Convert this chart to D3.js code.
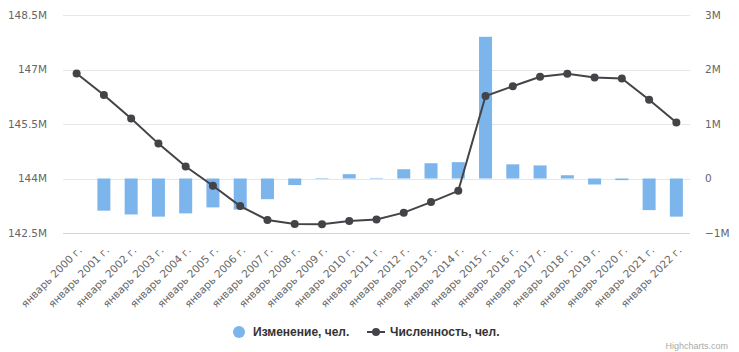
<!DOCTYPE html>
<html><head><meta charset="utf-8">
<script src="https://cdn.jsdelivr.net/npm/d3@7"></script>
<style>
body{margin:0;background:#fff;}
text{font-family:"Liberation Sans",Arial,Helvetica,sans-serif;}
.ax text{font-family:"DejaVu Sans",sans-serif;}
</style></head>
<body><svg id="c" width="739" height="352"></svg>
<script>
const categories = ["январь 2000 г.","январь 2001 г.","январь 2002 г.","январь 2003 г.","январь 2004 г.","январь 2005 г.","январь 2006 г.","январь 2007 г.","январь 2008 г.","январь 2009 г.","январь 2010 г.","январь 2011 г.","январь 2012 г.","январь 2013 г.","январь 2014 г.","январь 2015 г.","январь 2016 г.","январь 2017 г.","январь 2018 г.","январь 2019 г.","январь 2020 г.","январь 2021 г.","январь 2022 г."];
const changeValues = [null,-590000,-660000,-700000,-640000,-530000,-570000,-380000,-120000,-10000,80000,10000,170000,280000,300000,2600000,260000,240000,60000,-110000,-30000,-580000,-700000];
const populationValues = [146890000,146300000,145650000,144960000,144330000,143800000,143240000,142860000,142750000,142740000,142830000,142870000,143060000,143350000,143660000,146270000,146540000,146800000,146880000,146780000,146750000,146170000,145540000];
const leftTicks = [142500000,144000000,145500000,147000000,148500000];
const rightTicks = [-1000000,0,1000000,2000000,3000000];
const seriesNames = ["Изменение, чел.","Численность, чел."];

const svg = d3.select("#c");
const m = {l:63, r:49, t:15, b:119};
const W = 739, H = 352;
const x = d3.scaleBand().domain(categories).range([m.l, W-m.r]);
const yL = d3.scaleLinear().domain([142500000,148500000]).range([H-m.b, m.t]);
const yR = d3.scaleLinear().domain([-1000000,3000000]).range([H-m.b, m.t]);

const fmtL = v => (v/1e6) + "M";
const fmtR = v => v===0 ? "0" : (v/1e6 < 0 ? "−" + Math.abs(v/1e6) : v/1e6) + "M";

// gridlines
svg.append("g").selectAll("line").data(leftTicks.slice(1)).join("line")
  .attr("x1", m.l).attr("x2", W-m.r).attr("y1", d=>Math.round(yL(d))+0.5).attr("y2", d=>Math.round(yL(d))+0.5)
  .attr("stroke","#e6e6e6");
svg.append("line").attr("x1",m.l).attr("x2",W-m.r).attr("y1",Math.round(yL(142500000))+0.5).attr("y2",Math.round(yL(142500000))+0.5).attr("stroke","#ccd6eb");

// left axis
const axL = d3.axisLeft(yL).tickValues(leftTicks).tickFormat(fmtL).tickSize(0).tickPadding(16);
const gL = svg.append("g").attr("class","ax").attr("transform",`translate(${m.l},0)`).call(axL);
gL.select(".domain").remove();
gL.selectAll("text").attr("fill","#666").style("font-size","10.5px");

// right axis
const axR = d3.axisRight(yR).tickValues(rightTicks).tickFormat(fmtR).tickSize(0).tickPadding(15);
const gR = svg.append("g").attr("class","ax").attr("transform",`translate(${W-m.r},0)`).call(axR);
gR.select(".domain").remove();
gR.selectAll("text").attr("fill","#666").style("font-size","10.5px");

// x axis
const axX = d3.axisBottom(x).tickSize(0).tickPadding(0);
const gX = svg.append("g").attr("class","ax").attr("transform",`translate(0,${H-m.b})`).call(axX);
gX.select(".domain").remove();
gX.selectAll("text").attr("fill","#666").style("font-size","10.5px")
  .attr("text-anchor","end").attr("dy",null).attr("y",null)
  .attr("transform","translate(6,18) rotate(-45)");

// bars
const bw = 13;
svg.append("g").selectAll("rect").data(categories.map((c,i)=>({c,v:changeValues[i]})).filter(d=>d.v!==null)).join("rect")
  .attr("x", d=>x(d.c)+x.bandwidth()/2-bw/2)
  .attr("width", bw)
  .attr("y", d=>Math.min(yR(d.v), yR(0)))
  .attr("height", d=>Math.abs(yR(d.v)-yR(0)))
  .attr("fill","#7cb5ec");

// line
const line = d3.line().x((d,i)=>x(categories[i])+x.bandwidth()/2).y(d=>yL(d));
svg.append("path").datum(populationValues).attr("d",line).attr("fill","none").attr("stroke","#434348").attr("stroke-width",2);
svg.append("g").selectAll("circle").data(populationValues).join("circle")
  .attr("cx",(d,i)=>x(categories[i])+x.bandwidth()/2).attr("cy",d=>yL(d)).attr("r",4).attr("fill","#434348");

// legend
const lg = svg.append("g");
lg.append("circle").attr("cx",239).attr("cy",332).attr("r",6).attr("fill","#7cb5ec");
lg.append("text").attr("x",253).attr("y",336).text(seriesNames[0]).attr("fill","#333").style("font-size","12px").style("font-weight","bold");
lg.append("line").attr("x1",367).attr("x2",385).attr("y1",332).attr("y2",332).attr("stroke","#434348").attr("stroke-width",2);
lg.append("circle").attr("cx",376).attr("cy",332).attr("r",4).attr("fill","#434348");
lg.append("text").attr("x",390).attr("y",336).text(seriesNames[1]).attr("fill","#333").style("font-size","12px").style("font-weight","bold");

svg.append("text").attr("x",728).attr("y",349).attr("text-anchor","end").text("Highcharts.com").attr("fill","#aaa").style("font-size","9px");
</script></body></html>
